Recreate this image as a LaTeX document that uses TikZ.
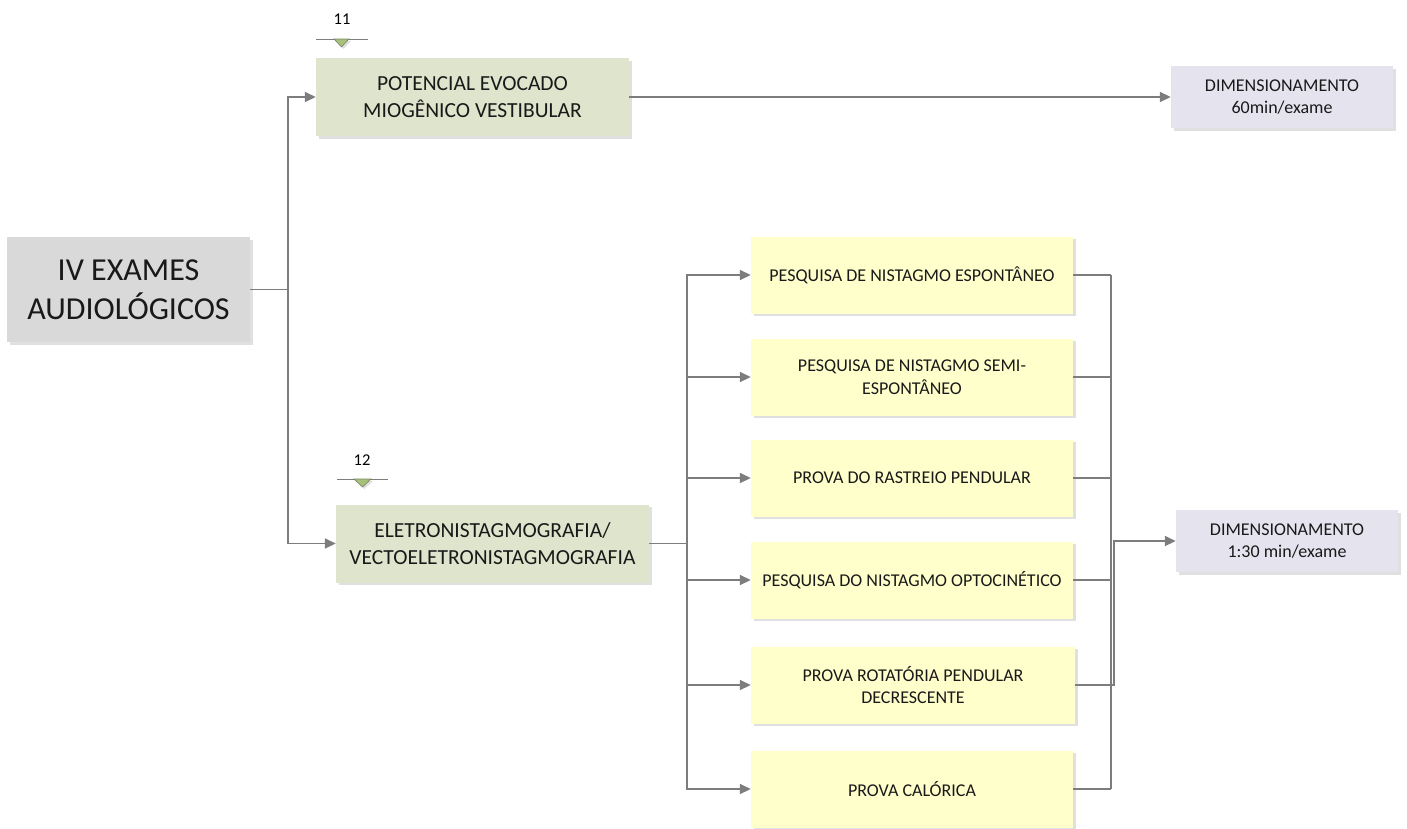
\documentclass[tikz,border=0pt]{standalone}
\usepackage{fontspec}
\setmainfont{Carlito}
\usetikzlibrary{arrows.meta,shadows,calc}
\definecolor{linegray}{RGB}{125,125,125}
\definecolor{shadowgray}{RGB}{224,224,224}
\definecolor{mainfill}{RGB}{217,217,217}
\definecolor{greenfill}{RGB}{223,228,204}
\definecolor{lavfill}{RGB}{229,227,238}
\definecolor{yelfill}{RGB}{255,255,204}
\definecolor{trifill}{RGB}{168,193,122}
\definecolor{tridraw}{RGB}{120,130,100}
\begin{document}
\begin{tikzpicture}[x=1pt,y=-1pt,
  box/.style={rectangle, inner sep=0pt, align=center, text=black!90,
    drop shadow={shadow xshift=2.5pt,shadow yshift=-2.5pt,fill=shadowgray,opacity=1}},
  mainbox/.style={box, fill=mainfill, minimum width=243pt, minimum height=105pt,
    font=\fontsize{32}{39}\selectfont},
  greenbox/.style={box, fill=greenfill, minimum width=313pt, minimum height=78pt,
    font=\fontsize{21.5}{26.5}\selectfont},
  lavbox/.style={box, fill=lavfill, minimum width=222pt, minimum height=62pt,
    font=\fontsize{18}{22.5}\selectfont},
  yelbox/.style={box, fill=yelfill, minimum width=322pt, minimum height=77pt,
    font=\fontsize{18}{22.5}\selectfont},
  conn/.style={draw=linegray, line width=1.6pt},
  arr/.style={conn, -{Triangle[length=11pt,width=10pt]}},
  numlabel/.style={inner sep=0pt, font=\fontsize{16.5}{20}\selectfont},
  markline/.style={draw=linegray, line width=1pt},
  marktri/.style={fill=trifill, draw=tridraw, line width=0.6pt}
]
\useasboundingbox (0,0) rectangle (1407,828);

% nodes
\node[mainbox] (main) at (128.5,289.5) {IV EXAMES\\AUDIOLÓGICOS};
\node[greenbox] (pemv) at (472.5,97) {POTENCIAL EVOCADO\\MIOGÊNICO VESTIBULAR};
\node[lavbox] (dim1) at (1282,97) {DIMENSIONAMENTO\\60min/exame};
\node[greenbox] (eletro) at (492.5,543.5) {ELETRONISTAGMOGRAFIA/\\VECTOELETRONISTAGMOGRAFIA};
\node[lavbox] (dim2) at (1287,541) {DIMENSIONAMENTO\\1:30 min/exame};

\node[yelbox] (y1) at (912,275) {PESQUISA DE NISTAGMO ESPONTÂNEO};
\node[yelbox] (y2) at (912,377) {PESQUISA DE NISTAGMO SEMI-\\ESPONTÂNEO};
\node[yelbox] (y3) at (912,478) {PROVA DO RASTREIO PENDULAR};
\node[yelbox] (y4) at (912,580) {PESQUISA DO NISTAGMO OPTOCINÉTICO};
\node[yelbox, minimum width=324pt] (y5) at (913,685) {PROVA ROTATÓRIA PENDULAR\\DECRESCENTE};
\node[yelbox] (y6) at (912,789) {PROVA CALÓRICA};

% number markers
\node[numlabel] (n11) at (342,19) {11};
\coordinate (m11a) at (316,39);
\coordinate (m11b) at (368,39);
\draw[markline] (m11a) -- (m11b);
\fill[shadowgray] (336,41) -- (351,41) -- (343.5,49) -- cycle;
\draw[marktri] (334,39) -- (349,39) -- (341.5,47) -- cycle;

\node[numlabel] (n12) at (362,460) {12};
\coordinate (m12a) at (337,479);
\coordinate (m12b) at (388,479);
\draw[markline] (m12a) -- (m12b);
\fill[shadowgray] (356,481) -- (373,481) -- (364.5,489) -- cycle;
\draw[marktri] (354,479) -- (371,479) -- (362.5,487) -- cycle;

% bus coordinates
\coordinate (lbus) at (288,0);
\coordinate (mbus) at (687,0);
\coordinate (rbus) at (1111,0);
\coordinate (rbus2) at (1114,0);

% connectors from main
\draw[arr] (main.east) -- (main.east -| lbus) |- (pemv.west);
\draw[arr] (main.east) -- (main.east -| lbus) |- (eletro.west);
\draw[arr] (pemv.east) -- (dim1.west);

% eletro to tests
\foreach \t in {y1,y2,y3,y4,y5,y6}{
  \draw[arr] (eletro.east) -- (eletro.east -| mbus) |- (\t.west);
}

% tests to right bus
\foreach \t in {y1,y2,y3,y4,y5,y6}{
  \draw[conn] (\t.east) -- (\t.east -| rbus);
}
\draw[conn] (y1.east -| rbus) -- (y6.east -| rbus);
\draw[arr] (y5.east -| rbus) -- (y5.east -| rbus2) |- (dim2.west);
\end{tikzpicture}
\end{document}
